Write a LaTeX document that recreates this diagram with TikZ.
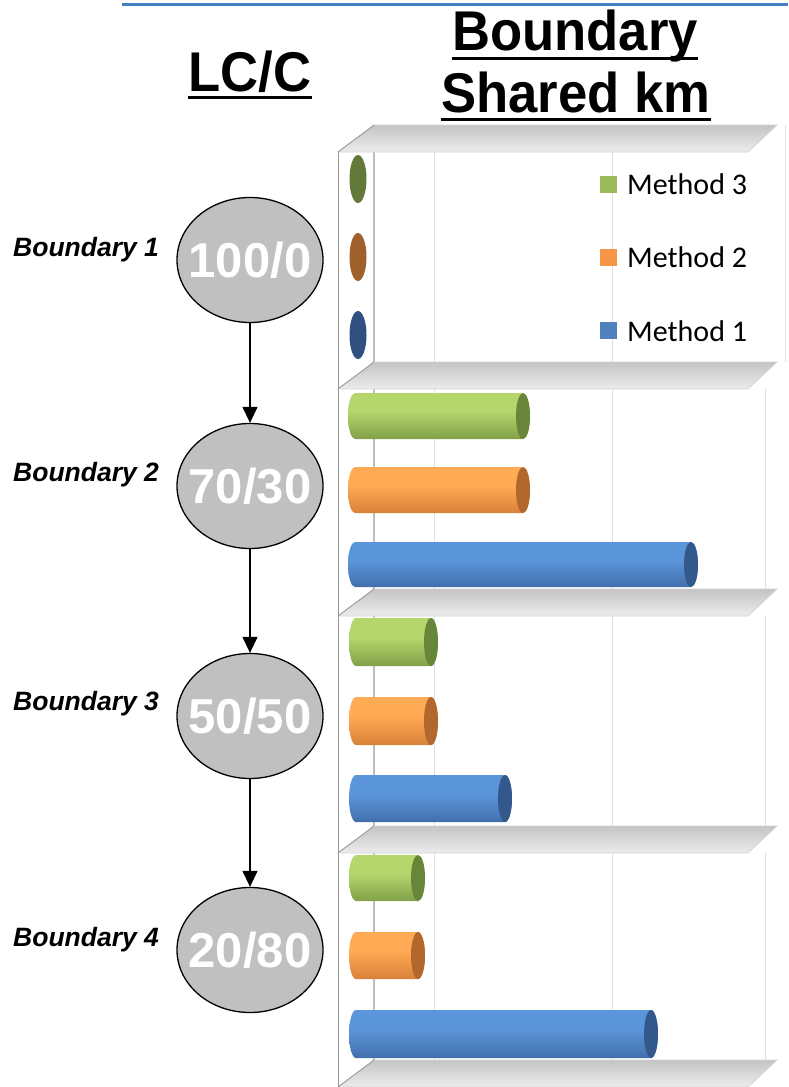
\documentclass[tikz,border=0pt]{standalone}
\usepackage{fontspec}
\setmainfont{Liberation Sans}
\newfontfamily\headfont{Liberation Sans}[FakeStretch=0.94]
\newfontfamily\legfont{Carlito}
\usetikzlibrary{arrows.meta,shapes.geometric}

\definecolor{rulecol}{RGB}{68,126,196}
\definecolor{ellfill}{RGB}{192,192,192}
\definecolor{floorTop}{RGB}{196,196,196}
\definecolor{floorBot}{RGB}{236,236,236}
\definecolor{floorEdge}{RGB}{214,214,214}
\definecolor{wallLine}{RGB}{150,150,150}
\definecolor{gridLine}{RGB}{224,224,224}
\definecolor{axisLine}{RGB}{190,190,190}
% bar colours
\definecolor{grnTop}{RGB}{140,172,80}
\definecolor{grnMid}{RGB}{180,214,108}
\definecolor{grnBot}{RGB}{80,104,40}
\definecolor{grnCap}{RGB}{104,134,58}
\definecolor{oraTop}{RGB}{236,140,62}
\definecolor{oraMid}{RGB}{255,170,84}
\definecolor{oraBot}{RGB}{140,80,30}
\definecolor{oraCap}{RGB}{178,104,44}
\definecolor{bluTop}{RGB}{74,124,190}
\definecolor{bluMid}{RGB}{92,150,218}
\definecolor{bluBot}{RGB}{30,56,98}
\definecolor{bluCap}{RGB}{50,88,140}
% empty-value caps
\definecolor{grnDot}{RGB}{98,121,58}
\definecolor{oraDot}{RGB}{160,96,44}
\definecolor{bluDot}{RGB}{47,80,128}
% legend keys
\definecolor{keyGrn}{RGB}{155,187,89}
\definecolor{keyOra}{RGB}{247,150,70}
\definecolor{keyBlu}{RGB}{79,129,189}

\pgfdeclareverticalshading{grnshade}{100bp}{color(0bp)=(grnBot); color(22bp)=(grnTop!75!grnBot); color(55bp)=(grnMid); color(75bp)=(grnMid); color(100bp)=(grnTop)}
\pgfdeclareverticalshading{orashade}{100bp}{color(0bp)=(oraBot); color(22bp)=(oraTop!75!oraBot); color(55bp)=(oraMid); color(75bp)=(oraMid); color(100bp)=(oraTop)}
\pgfdeclareverticalshading{blushade}{100bp}{color(0bp)=(bluBot); color(22bp)=(bluTop!75!bluBot); color(55bp)=(bluMid); color(75bp)=(bluMid); color(100bp)=(bluTop)}

% horizontal cylinder: x-left, x-right, y-top, y-bottom, shading, cap colour
\newcommand\cylbar[6]{%
  \pgfmathsetmacro\cylA{#1+7}%
  \pgfmathsetmacro\cylB{#2-7}%
  \pgfmathsetmacro\cylM{(#3+#4)/2}%
  \pgfmathsetmacro\cylR{(#4-#3)/2}%
  \shade[shading=#5] (\cylA,#3) -- (\cylB,#3)
     arc[start angle=-90,end angle=90,x radius=7,y radius=\cylR]
     -- (\cylA,#4)
     arc[start angle=90,end angle=270,x radius=7,y radius=\cylR] -- cycle;
  \fill[#6] (\cylB,\cylM) ellipse[x radius=7,y radius=\cylR];
}
% slanted floor slab at a given top y
\newcommand\floorslab[1]{%
  \shade[top color=floorTop,bottom color=floorBot,draw=floorEdge,line width=0.8pt]
    (374,#1) -- (777,#1) -- (748,#1+27) -- (338,#1+27) -- cycle;
  \draw[wallLine,line width=0.8pt] (338,#1+27) -- (374,#1);
}

\begin{document}
\begin{tikzpicture}[x=1pt,y=-1pt,
  headtxt/.style={font=\headfont\bfseries\fontsize{56}{60}\selectfont,inner sep=0pt,anchor=base},
  sidetxt/.style={font=\bfseries\itshape\fontsize{26.5}{30}\selectfont,inner sep=0pt,anchor=base west},
  ratio/.style={ellipse,draw=black,line width=1.3pt,fill=ellfill,minimum width=146pt,minimum height=125pt,inner sep=0pt},
  ratiotxt/.style={text=white,font=\bfseries\fontsize{49}{52}\selectfont,inner sep=0pt},
  flow/.style={line width=1.3pt,-{Triangle[width=15pt,length=16pt]}},
  keybox/.style={minimum size=17pt,inner sep=0pt},
  keytxt/.style={font=\legfont\fontsize{30}{34}\selectfont,inner sep=0pt,anchor=base west},
  uline/.style={line width=3pt}]
\useasboundingbox (0,0) rectangle (788,1087);
\fill[white] (0,0) rectangle (788,1087);

% top rule
\draw[rulecol,line width=3pt] (122,4) -- (788,4);

% column headings
\node[headtxt] (hlc) at (250,91) {LC/C};
\draw[uline] ([yshift=-6pt]hlc.base west) -- ([yshift=-6pt]hlc.base east);
\node[headtxt] (hb1) at (575,50) {Boundary};
\draw[uline] ([yshift=-8pt]hb1.base west) -- ([yshift=-8pt]hb1.base east);
\node[headtxt] (hb2) at (576,112) {Shared km};
\draw[uline] ([yshift=-7pt]hb2.base west) -- ([yshift=-7pt]hb2.base east);

% boundary labels
\node[sidetxt] (b1) at (13,256) {Boundary 1};
\node[sidetxt] (b2) at (13,481) {Boundary 2};
\node[sidetxt] (b3) at (13,710) {Boundary 3};
\node[sidetxt] (b4) at (13,946) {Boundary 4};

% LC/C ratios
\node[ratio] (e1) at (250,260) {};
\node[ratio] (e2) at (250,486) {};
\node[ratio] (e3) at (250,716) {};
\node[ratio] (e4) at (250,950) {};
\node[ratiotxt] (r1) at (e1) {100/0};
\node[ratiotxt] (r2) at (e2) {70/30};
\node[ratiotxt] (r3) at (e3) {50/50};
\node[ratiotxt] (r4) at (e4) {20/80};
\draw[flow] (e1) -- (e2);
\draw[flow] (e2) -- (e3);
\draw[flow] (e3) -- (e4);

% chart walls and gridlines
\draw[wallLine,line width=1pt] (338,152) -- (338,1087);
\foreach \ya/\yb in {152/362, 389/589, 616/827, 853/1060}{
  \draw[gridLine,line width=1pt] (434,\ya) -- (434,\yb);
  \draw[gridLine,line width=1pt] (612,\ya) -- (612,\yb);
  \draw[axisLine,line width=1.2pt] (374,\ya) -- (374,\yb);
}
\draw[gridLine,line width=1pt] (785,125) -- (785,362);
\foreach \ya/\yb in {389/589, 616/827, 853/1060}{
  \draw[gridLine,line width=1pt] (765,\ya) -- (765,\yb);
}

% floor slabs
\floorslab{125}
\floorslab{362}
\floorslab{589}
\floorslab{826}
\floorslab{1060}

% Boundary 1: zero values
\fill[grnDot] (358,179) ellipse[x radius=8.5,y radius=24];
\fill[oraDot] (358,257) ellipse[x radius=8.5,y radius=24];
\fill[bluDot] (358,335) ellipse[x radius=8.5,y radius=24];

% Boundary 2
\cylbar{348}{530}{393}{439}{grnshade}{grnCap}
\cylbar{348}{530}{467}{513}{orashade}{oraCap}
\cylbar{348}{698}{542}{587}{blushade}{bluCap}
% Boundary 3
\cylbar{349}{438}{618}{666}{grnshade}{grnCap}
\cylbar{349}{438}{697}{745}{orashade}{oraCap}
\cylbar{349}{512}{775}{822}{blushade}{bluCap}
% Boundary 4
\cylbar{349}{425}{855}{901}{grnshade}{grnCap}
\cylbar{349}{425}{932}{979}{orashade}{oraCap}
\cylbar{349}{658}{1010}{1058}{blushade}{bluCap}

% legend
\node[keybox,fill=keyGrn] (k3) at (608.5,184.5) {};
\node[keybox,fill=keyOra] (k2) at (608.5,257.5) {};
\node[keybox,fill=keyBlu] (k1) at (608.5,330.5) {};
\node[keytxt] (l3) at (627,194) {Method 3};
\node[keytxt] (l2) at (627,267) {Method 2};
\node[keytxt] (l1) at (627,341) {Method 1};
\end{tikzpicture}
\end{document}
